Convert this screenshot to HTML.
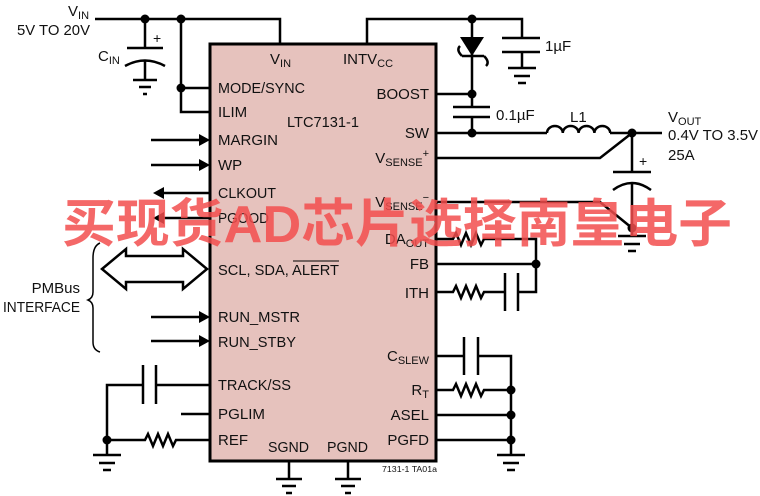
<!DOCTYPE html>
<html><head><meta charset="utf-8"><style>
html,body{margin:0;padding:0;background:#fff;}
svg{display:block;}
text{font-family:"Liberation Sans",sans-serif;font-size:15px;fill:#111;}
.s{font-size:11px;}
</style></head><body>
<svg width="760" height="496" viewBox="0 0 760 496" xmlns="http://www.w3.org/2000/svg">
<g stroke="#000" stroke-width="2.5" fill="none">
<rect x="210" y="44" width="226" height="417" fill="#e6c2bd" stroke-width="3"/>
<path d="M95 19H280V44"/>
<path d="M181 19V112H210M181 88H210"/>
<path d="M145 19V48M127 48H163M125 66Q145 55 165 66M145 60V80M133 80H157M139 87H151M143 94H147"/>
<path d="M367 44V19H522V38M502 38H540M502 52H540M522 52V68M508 68H536M514 76H530M518 83H526"/>
<path d="M472 19V94H436M472 94V107M453 107H490M453 117H490M472 117V133"/>
<path d="M462 56H484M462 56Q456 50 460 46M484 56Q490 62 486 66"/>
<path d="M436 133H547M547 133a7.9 7 0 0 1 15.8 0a7.9 7 0 0 1 15.8 0a7.9 7 0 0 1 15.8 0a7.9 7 0 0 1 15.8 0M610 133H662"/>
<path d="M436 158H600L632 133M436 202H600L632 228"/>
<path d="M632 133V172M613 172H651M613 190Q632 176 651 190M632 182V236M618 236H646M624 244H640M628 251H636"/>
<path d="M436 239H453l3 -6l5 12l5 -12l5 12l5 -12l5 12l3 -6H536V292H518M436 264H536"/>
<path d="M436 292H453l3 -6l5 12l5 -12l5 12l5 -12l5 12l3 -6H505M505 273V311M518 273V311"/>
<path d="M436 356H464M464 337V375M478 337V375M478 356H511V455M436 390H453l3 -6l5 12l5 -12l5 12l5 -12l5 12l3 -6H511M436 415H511M436 440H511"/>
<path d="M497 455H525M503 463H519M507 470H515"/>
<path d="M210 385H156M156 365V404M143 365V404M143 385H107V455M93 455H121M99 463H115M103 470H111"/>
<path d="M181 414H210M107 440H145l3 -6l5 12l5 -12l5 12l5 -12l5 12l3 -6H210"/>
<path d="M289 461V479M276 479H302M282 486H296M286 493H292M348 461V479M335 479H361M341 486H355M345 493H351"/>
<path d="M151 140H200M151 165H200M151 317H200M151 341H200M163 193H210M163 218H210"/>
<path d="M100 243Q93 246 93 258V292Q93 298 88 300Q93 302 93 308V342Q93 350 100 352" stroke-width="1.5"/>
<path d="M102 269L126 249V256H183V249L207 269L183 289V282H126V289Z" fill="#fff" stroke-width="2.5"/>
</g>
<g fill="#000">
<circle cx="145" cy="19" r="4.5"/><circle cx="181" cy="19" r="4.5"/><circle cx="181" cy="88" r="4.5"/>
<circle cx="472" cy="19" r="4.5"/><circle cx="472" cy="94" r="4.5"/><circle cx="472" cy="133" r="4.5"/>
<circle cx="632" cy="133" r="4.5"/><circle cx="632" cy="228" r="4.5"/><circle cx="536" cy="264" r="4.5"/>
<circle cx="511" cy="390" r="4.5"/><circle cx="511" cy="415" r="4.5"/><circle cx="511" cy="440" r="4.5"/>
<circle cx="107" cy="440" r="4.5"/>
<path d="M460 37H484L472 56Z"/>
<path d="M210 140l-11 -6v12ZM210 165l-11 -6v12ZM210 317l-11 -6v12ZM210 341l-11 -6v12ZM153 193l11 -6v12ZM153 218l11 -6v12Z"/>
</g>
<text x="68" y="16">V<tspan class="s" dy="3">IN</tspan></text>
<text x="17" y="35" textLength="73" lengthAdjust="spacingAndGlyphs">5V TO 20V</text>
<text x="98" y="61">C<tspan class="s" dy="3">IN</tspan></text>
<text x="153" y="43" style="font-size:14px">+</text>
<text x="270" y="64">V<tspan class="s" dy="3">IN</tspan></text>
<text x="343" y="64">INTV<tspan class="s" dy="3">CC</tspan></text>
<text x="218" y="93" textLength="87" lengthAdjust="spacingAndGlyphs">MODE/SYNC</text>
<text x="218" y="117">ILIM</text>
<text x="287" y="127" textLength="72" lengthAdjust="spacingAndGlyphs">LTC7131-1</text>
<text x="218" y="145" textLength="60" lengthAdjust="spacingAndGlyphs">MARGIN</text>
<text x="218" y="170">WP</text>
<text x="218" y="198" textLength="58" lengthAdjust="spacingAndGlyphs">CLKOUT</text>
<text x="218" y="223" textLength="51" lengthAdjust="spacingAndGlyphs">PGOOD</text>
<text x="218" y="275" textLength="121" lengthAdjust="spacingAndGlyphs">SCL, SDA, ALERT</text>
<line x1="293" y1="261" x2="339" y2="261" stroke="#000" stroke-width="1"/>
<text x="218" y="322" textLength="82" lengthAdjust="spacingAndGlyphs">RUN_MSTR</text>
<text x="218" y="347" textLength="78" lengthAdjust="spacingAndGlyphs">RUN_STBY</text>
<text x="218" y="390" textLength="73" lengthAdjust="spacingAndGlyphs">TRACK/SS</text>
<text x="218" y="419" textLength="47" lengthAdjust="spacingAndGlyphs">PGLIM</text>
<text x="218" y="445">REF</text>
<text x="268" y="452" textLength="41" lengthAdjust="spacingAndGlyphs">SGND</text>
<text x="327" y="452" textLength="41" lengthAdjust="spacingAndGlyphs">PGND</text>
<text x="429" y="99" text-anchor="end">BOOST</text>
<text x="429" y="138" text-anchor="end">SW</text>
<text x="429" y="163" text-anchor="end">V<tspan class="s" dy="3">SENSE</tspan><tspan class="s" dy="-9">+</tspan></text>
<text x="429" y="207" text-anchor="end">V<tspan class="s" dy="3">SENSE</tspan><tspan class="s" dy="-9">−</tspan></text>
<text x="429" y="244" text-anchor="end">DA<tspan class="s" dy="3">OUT</tspan></text>
<text x="429" y="269" text-anchor="end">FB</text>
<text x="429" y="298" text-anchor="end">ITH</text>
<text x="429" y="361" text-anchor="end">C<tspan class="s" dy="3">SLEW</tspan></text>
<text x="429" y="395" text-anchor="end">R<tspan class="s" dy="3">T</tspan></text>
<text x="429" y="420" text-anchor="end">ASEL</text>
<text x="429" y="445" text-anchor="end">PGFD</text>
<text x="545" y="51">1µF</text>
<text x="496" y="120">0.1µF</text>
<text x="570" y="122">L1</text>
<text x="668" y="122">V<tspan class="s" dy="3">OUT</tspan></text>
<text x="668" y="140" textLength="90" lengthAdjust="spacingAndGlyphs">0.4V TO 3.5V</text>
<text x="668" y="160">25A</text>
<text x="639" y="166" style="font-size:14px">+</text>
<text x="80" y="293" text-anchor="end">PMBus</text>
<text x="3" y="312" textLength="77" lengthAdjust="spacingAndGlyphs">INTERFACE</text>
<text x="382" y="472" style="font-size:8px" textLength="55" lengthAdjust="spacingAndGlyphs">7131-1 TA01a</text>
<text x="62" y="242" fill-opacity="0.85" style="fill:#f24d4d;font-weight:bold;font-family:'Liberation Sans','Noto Sans CJK SC',sans-serif;font-size:52px" textLength="670" lengthAdjust="spacingAndGlyphs">买现货AD芯片选择南皇电子</text>
</svg>
</body></html>
